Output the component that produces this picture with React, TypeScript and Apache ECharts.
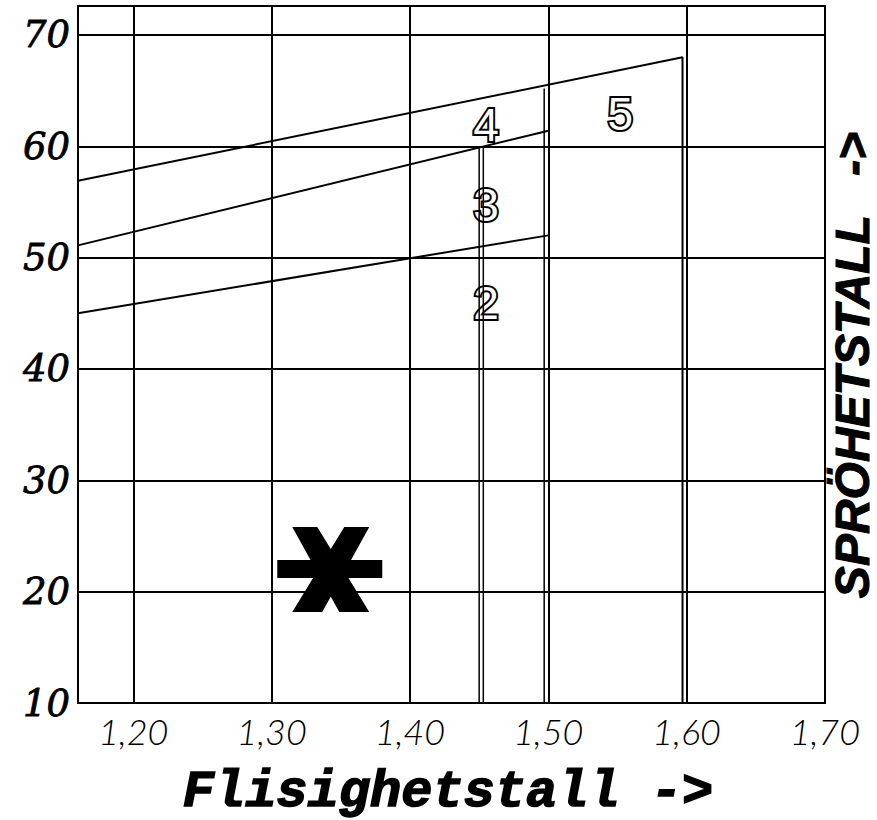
import React, { useEffect, useRef } from "react";
import * as echarts from "echarts";

// Axis ticks
const xTickValues = [1.2, 1.3, 1.4, 1.5, 1.6, 1.7];
const xTickLabels = ["1,20", "1,30", "1,40", "1,50", "1,60", "1,70"];
const yTickValues = [10, 20, 30, 40, 50, 60, 70];
const xMin = 1.16;
const xMax = 1.7;
const yMin = 10;
const yMax = 72.6;

// Zone boundary lines [x, y]
const boundary5 = [[1.16, 56.9], [1.597, 68.0], [1.597, 10]];
const boundary4 = [[1.16, 51.1], [1.5, 61.4]];
const boundary3 = [[1.16, 45.0], [1.5, 52.0]];
const divider145a = [[1.45, 60], [1.45, 10]];
const divider145b = [[1.453, 60], [1.453, 10]];
const divider150 = [[1.497, 65.2], [1.497, 10]];

// Zone labels
const zoneNames = ["2", "3", "4", "5"];
const zoneX = [1.455, 1.455, 1.455, 1.552];
const zoneY = [45.9, 54.7, 61.9, 62.9];

// Marked point (asterisk)
const markX = [1.342];
const markY = [22.0];

const xAxisTitle = "Flisighetstall ->";
const yAxisTitle = "SPRÖHETSTALL   ->";

const asteriskPath =
  "path://M0 33L105 33L105 51L0 51ZM15 0L40 0L92 85L62 85ZM67 0L92 0L45 85L15 85Z";

export default function App() {
  const ref = useRef<HTMLDivElement>(null);
  useEffect(() => {
    if (!ref.current) return;
    const chart = echarts.init(ref.current, null, { renderer: "svg" });
    const mkLine = (data: number[][], w: number) => ({
      type: "line",
      data,
      showSymbol: false,
      symbol: "none",
      lineStyle: { color: "#000", width: w, type: "solid" as const, opacity: 1 },
      z: 3,
      silent: true,
    });
    chart.setOption({
      animation: false,
      backgroundColor: "#fff",
      grid: {
        left: 78,
        right: 52,
        top: 6,
        bottom: 117,
        show: true,
        borderColor: "#000",
        borderWidth: 2,
        containLabel: false,
      },
      xAxis: {
        type: "value",
        min: xMin,
        max: xMax,
        axisLine: { show: true, lineStyle: { color: "#000", width: 2 } },
        axisTick: { show: false, customValues: xTickValues },
        axisLabel: {
          customValues: xTickValues,
          margin: 10,
          formatter: (v: number) => {
            const i = xTickValues.findIndex((t) => Math.abs(t - v) < 1e-6);
            return i >= 0 ? xTickLabels[i] : "";
          },
          fontFamily: "Lato, 'DejaVu Sans', sans-serif",
          fontStyle: "italic",
          fontWeight: 300,
          fontSize: 36,
          color: "#000",
        },
        splitLine: { show: true, lineStyle: { color: "#000", width: 2 } },
      },
      yAxis: {
        type: "value",
        min: yMin,
        max: yMax,
        axisLine: { show: true, lineStyle: { color: "#000", width: 2 } },
        axisTick: { show: false, customValues: yTickValues },
        axisLabel: {
          customValues: yTickValues,
          margin: 8,
          fontFamily: "'DejaVu Serif', serif",
          fontStyle: "italic",
          fontWeight: "normal",
          fontSize: 37,
          color: "#000",
          textBorderColor: "#000",
          textBorderWidth: 0.8,
        },
        splitLine: { show: true, lineStyle: { color: "#000", width: 2 } },
      },
      graphic: [
        {
          type: "text",
          x: 448,
          y: 792,
          style: {
            text: xAxisTitle,
            font: "bold italic 52px 'Liberation Mono', monospace",
            fill: "#000",
            stroke: "#000",
            lineWidth: 1.5,
            textAlign: "center",
            textVerticalAlign: "middle",
          },
        },
        {
          type: "text",
          x: 852,
          y: 365,
          rotation: Math.PI / 2,
          style: {
            text: yAxisTitle,
            font: "bold italic 48px 'Liberation Sans', Arial, sans-serif",
            fill: "#000",
            stroke: "#000",
            lineWidth: 1,
            textAlign: "center",
            textVerticalAlign: "middle",
          },
        },
      ],
      series: [
        {
          type: "scatter",
          z: 1,
          symbolSize: 0,
          itemStyle: { opacity: 1 },
          data: zoneNames.map((n, i) => ({ name: n, value: [zoneX[i], zoneY[i]] })),
          label: {
            show: true,
            position: "inside",
            formatter: (p: any) => p.name,
            fontFamily: "'Liberation Sans', Arial, sans-serif",
            fontWeight: "normal",
            fontSize: 46,
            color: "#fff",
            opacity: 1,
            textBorderColor: "#000",
            textBorderWidth: 4,
          },
          silent: true,
        },
        mkLine(boundary5, 2),
        mkLine(boundary4, 2),
        mkLine(boundary3, 2),
        mkLine(divider145a, 1.5),
        mkLine(divider145b, 1.5),
        mkLine(divider150, 1.5),
        {
          type: "scatter",
          z: 4,
          symbol: asteriskPath,
          symbolSize: [105, 85],
          itemStyle: { color: "#000", opacity: 1 },
          data: markX.map((x, i) => [x, markY[i]]),
          silent: true,
        },
      ],
    });
    return () => chart.dispose();
  }, []);
  return (
    <div
      ref={ref}
      style={{ position: "fixed", left: 0, top: 0, width: 877, height: 820, background: "#fff" }}
    />
  );
}
